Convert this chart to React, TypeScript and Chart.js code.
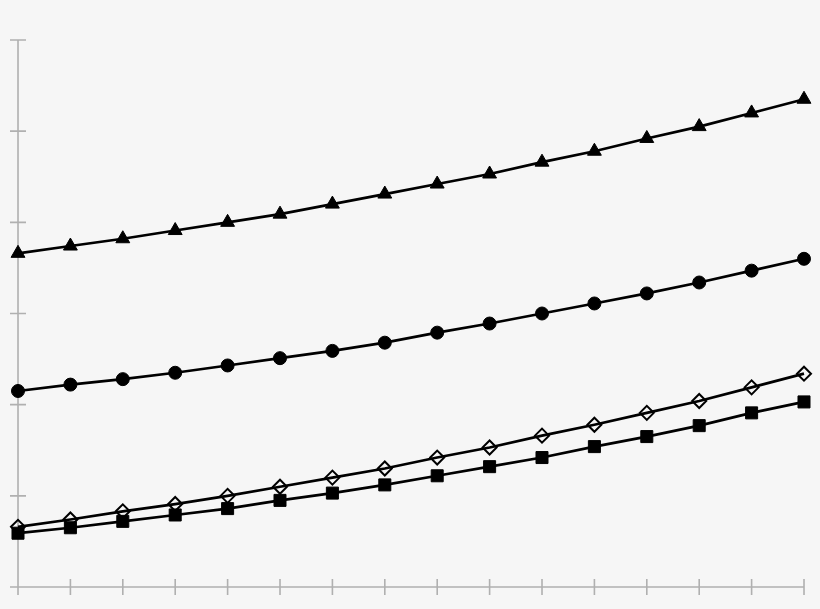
import { useEffect, useRef } from "react";
import { Chart, registerables } from "chart.js";

Chart.register(...registerables);

const categories = ["1", "2", "3", "4", "5", "6", "7", "8", "9", "10", "11", "12", "13", "14", "15", "16"];
const yTicks = [0, 10, 20, 30, 40, 50, 60];

const triangleSeries = [36.6, 37.4, 38.2, 39.1, 40.0, 40.9, 42.0, 43.1, 44.2, 45.3, 46.6, 47.8, 49.2, 50.5, 52.0, 53.5];
const circleSeries = [21.5, 22.2, 22.8, 23.5, 24.3, 25.1, 25.9, 26.8, 27.9, 28.9, 30.0, 31.1, 32.2, 33.4, 34.7, 36.0];
const diamondSeries = [6.6, 7.4, 8.3, 9.1, 10.0, 11.0, 12.0, 13.0, 14.2, 15.3, 16.6, 17.8, 19.1, 20.4, 21.9, 23.4];
const squareSeries = [5.9, 6.5, 7.2, 7.9, 8.6, 9.5, 10.3, 11.2, 12.2, 13.2, 14.2, 15.4, 16.5, 17.7, 19.1, 20.3];

const AXIS_COLOR = "#b0b0b0";

// axes drawn with ticks crossing the axis line on both sides
const crossAxes = {
	id: "crossAxes",
	beforeDatasetsDraw(chart) {
		const { ctx, chartArea, scales } = chart;
		const x = scales.x;
		const y = scales.y;
		ctx.save();
		ctx.strokeStyle = AXIS_COLOR;
		ctx.lineWidth = 1.6;
		ctx.beginPath();
		ctx.moveTo(chartArea.left, y.getPixelForValue(yTicks[yTicks.length - 1]));
		ctx.lineTo(chartArea.left, chartArea.bottom);
		ctx.lineTo(x.getPixelForValue(categories.length - 1), chartArea.bottom);
		yTicks.forEach((t) => {
			const py = y.getPixelForValue(t);
			ctx.moveTo(chartArea.left - 8, py);
			ctx.lineTo(chartArea.left + 8, py);
		});
		categories.forEach((_, i) => {
			const px = x.getPixelForValue(i);
			ctx.moveTo(px, chartArea.bottom - 8);
			ctx.lineTo(px, chartArea.bottom + 8);
		});
		ctx.stroke();
		ctx.restore();
	},
};

const App = () => {
	const chartRef = useRef<HTMLCanvasElement | null>(null);

	useEffect(() => {
		const myChart = new Chart(chartRef.current, {
			type: "line",
			data: {
				labels: categories,
				datasets: [
					{
						data: triangleSeries,
						borderColor: "#000",
						backgroundColor: "#000",
						borderWidth: 2.7,
						pointStyle: "triangle",
						pointRadius: 8,
						pointBorderWidth: 1,
						clip: false,
					},
					{
						data: circleSeries,
						borderColor: "#000",
						backgroundColor: "#000",
						borderWidth: 2.7,
						pointStyle: "circle",
						pointRadius: 6.5,
						pointBorderWidth: 1,
						clip: false,
					},
					{
						data: diamondSeries,
						borderColor: "#000",
						backgroundColor: "transparent",
						pointBackgroundColor: "transparent",
						borderWidth: 2.7,
						pointStyle: "rectRot",
						pointRadius: 7,
						pointBorderWidth: 2,
						clip: false,
					},
					{
						data: squareSeries,
						borderColor: "#000",
						backgroundColor: "#000",
						borderWidth: 2.7,
						pointStyle: "rect",
						pointRadius: 8.5,
						pointBorderWidth: 1,
						clip: false,
					},
				],
			},
			options: {
				animation: false,
				responsive: true,
				maintainAspectRatio: false,
				layout: { padding: { left: 18, top: 40, right: 16, bottom: 22 } },
				plugins: {
					legend: { display: false },
					tooltip: { enabled: false },
				},
				elements: { line: { tension: 0 } },
				scales: {
					x: { display: false, offset: false },
					y: { display: false, min: 0, max: 60, ticks: { stepSize: 10 } },
				},
			},
			plugins: [crossAxes],
		});

		return () => {
			myChart.destroy();
		};
	}, []);

	return (
		<div style={{ position: "fixed", inset: 0, width: 820, height: 609, background: "#f6f6f6" }}>
			<canvas ref={chartRef} />
		</div>
	);
};

export default App;
